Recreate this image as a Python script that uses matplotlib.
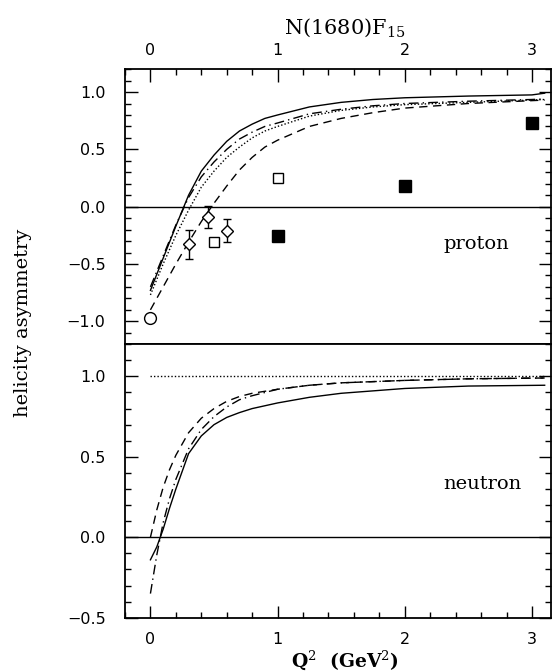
import matplotlib
matplotlib.use("Agg")
import matplotlib.pyplot as plt
from matplotlib.ticker import MultipleLocator

plt.rcParams['mathtext.fontset'] = 'dejavuserif'
plt.rcParams['font.family'] = 'DejaVu Sans'

# proton curves
xp = [0, 0.1, 0.2, 0.3, 0.4, 0.5, 0.6, 0.7, 0.8, 0.9, 1.0, 1.25, 1.5, 1.75, 2.0, 2.5, 3.0, 3.1]
p_solid = [-0.73, -0.45, -0.17, 0.10, 0.31, 0.45, 0.57, 0.66, 0.72, 0.77, 0.80, 0.87, 0.91, 0.935, 0.95, 0.965, 0.975, 0.99]
p_dashdot = [-0.70, -0.43, -0.16, 0.08, 0.26, 0.39, 0.50, 0.59, 0.65, 0.70, 0.73, 0.81, 0.85, 0.88, 0.90, 0.92, 0.935, 0.94]
p_dotted = [-0.77, -0.50, -0.25, -0.03, 0.17, 0.31, 0.43, 0.52, 0.60, 0.66, 0.70, 0.79, 0.84, 0.87, 0.89, 0.91, 0.93, 0.935]
p_dashed = [-0.90, -0.70, -0.50, -0.31, -0.13, 0.03, 0.18, 0.32, 0.43, 0.52, 0.58, 0.70, 0.77, 0.82, 0.86, 0.90, 0.925, 0.93]

# neutron curves
xn = [0, 0.05, 0.1, 0.15, 0.2, 0.3, 0.4, 0.5, 0.6, 0.7, 0.8, 1.0, 1.25, 1.5, 2.0, 2.5, 3.1]
n_solid = [-0.14, -0.06, 0.05, 0.18, 0.30, 0.52, 0.63, 0.70, 0.745, 0.775, 0.80, 0.835, 0.87, 0.895, 0.925, 0.94, 0.945]
n_dashdot = [-0.35, -0.11, 0.09, 0.24, 0.36, 0.55, 0.67, 0.75, 0.81, 0.855, 0.88, 0.92, 0.945, 0.96, 0.975, 0.985, 0.99]
n_dashed = [0.0, 0.17, 0.31, 0.42, 0.51, 0.65, 0.74, 0.80, 0.845, 0.875, 0.895, 0.92, 0.945, 0.96, 0.975, 0.985, 0.99]
n_dotted_x = [0, 3.1]
n_dotted = [1.0, 1.0]

# proton data points
circ_x, circ_y, circ_err = [0.0], [-0.97], [0.035]
diam_x = [0.30, 0.45, 0.60]
diam_y = [-0.33, -0.09, -0.21]
diam_err = [0.13, 0.10, 0.10]
osq_x, osq_y = [0.50, 1.0], [-0.31, 0.25]
fsq_x, fsq_y = [1.0, 2.0, 3.0], [-0.26, 0.18, 0.73]

serif = 'DejaVu Serif'

fig = plt.figure(figsize=(5.58, 6.71), dpi=100)
ax1 = fig.add_axes([0.224, 0.487, 0.7635, 0.410])
ax2 = fig.add_axes([0.224, 0.0794, 0.7635, 0.4076])

lw = 1.0
ax1.plot(xp, p_solid, color='k', lw=lw)
ax1.plot(xp, p_dashdot, color='k', lw=lw, dashes=(7, 3, 1, 3))
ax1.plot(xp, p_dotted, color='k', lw=lw, dashes=(1, 1.5))
ax1.plot(xp, p_dashed, color='k', lw=lw, dashes=(6, 4))
ax1.axhline(0, color='k', lw=1.0)

ax1.errorbar(circ_x, circ_y, yerr=circ_err, fmt='o', mfc='white', mec='k',
             ms=8.5, mew=1.0, ecolor='k', elinewidth=1.0, capsize=0)
ax1.errorbar(diam_x, diam_y, yerr=diam_err, fmt='D', mfc='white', mec='k',
             ms=6, mew=1.0, ecolor='k', elinewidth=1.0, capsize=3)
ax1.plot(osq_x, osq_y, 's', mfc='white', mec='k', ms=7.5, mew=1.0)
ax1.plot(fsq_x, fsq_y, 's', color='k', ms=8.5)

ax2.plot(xn, n_solid, color='k', lw=lw)
ax2.plot(xn, n_dashdot, color='k', lw=lw, dashes=(7, 3, 1, 3))
ax2.plot(xn, n_dashed, color='k', lw=lw, dashes=(6, 4))
ax2.plot(n_dotted_x, n_dotted, color='k', lw=lw, dashes=(1, 1.5))
ax2.axhline(0, color='k', lw=1.0)

ax1.set_xlim(-0.2, 3.15)
ax2.set_xlim(-0.2, 3.15)
ax1.set_ylim(-1.2, 1.2)
ax2.set_ylim(-0.5, 1.2)

for ax in (ax1, ax2):
    for s in ax.spines.values():
        s.set_linewidth(1.3)
    ax.xaxis.set_major_locator(MultipleLocator(1))
    ax.xaxis.set_minor_locator(MultipleLocator(0.2))
    ax.yaxis.set_major_locator(MultipleLocator(0.5))
    ax.yaxis.set_minor_locator(MultipleLocator(0.1))
    ax.tick_params(which='both', direction='in', left=True, right=True,
                   labelsize=11.5, width=1.0)
    ax.tick_params(which='major', length=9)
    ax.tick_params(which='minor', length=4)
    ax.tick_params(axis='y', pad=14)

ax1.tick_params(axis='x', which='both', top=True, bottom=False,
                labeltop=True, labelbottom=False, pad=8)
ax2.tick_params(axis='x', which='both', top=False, bottom=True,
                labeltop=False, labelbottom=True, pad=10)
ax1.set_yticks([-1.0, -0.5, 0.0, 0.5, 1.0])
ax1.set_yticklabels(['\u22121.0', '\u22120.5', '0.0', '0.5', '1.0'])
ax2.set_yticks([-0.5, 0.0, 0.5, 1.0])
ax2.set_yticklabels(['\u22120.5', '0.0', '0.5', '1.0'])

ax1.text(2.56, -0.33, 'proton', family=serif, fontsize=14, ha='center', va='center')
ax2.text(2.61, 0.33, 'neutron', family=serif, fontsize=14, ha='center', va='center')

fig.text(0.618, 0.958, r'N(1680)F$_{15}$', family=serif, fontsize=15, ha='center', va='center')
fig.text(0.042, 0.519, 'helicity asymmetry', family=serif, fontsize=14,
         rotation=90, ha='center', va='center')
fig.text(0.618, 0.016, r'Q$^2$  (GeV$^2$)', family=serif, fontsize=13.5,
         fontweight='bold', ha='center', va='center')

fig.savefig('out.png', dpi=100)
